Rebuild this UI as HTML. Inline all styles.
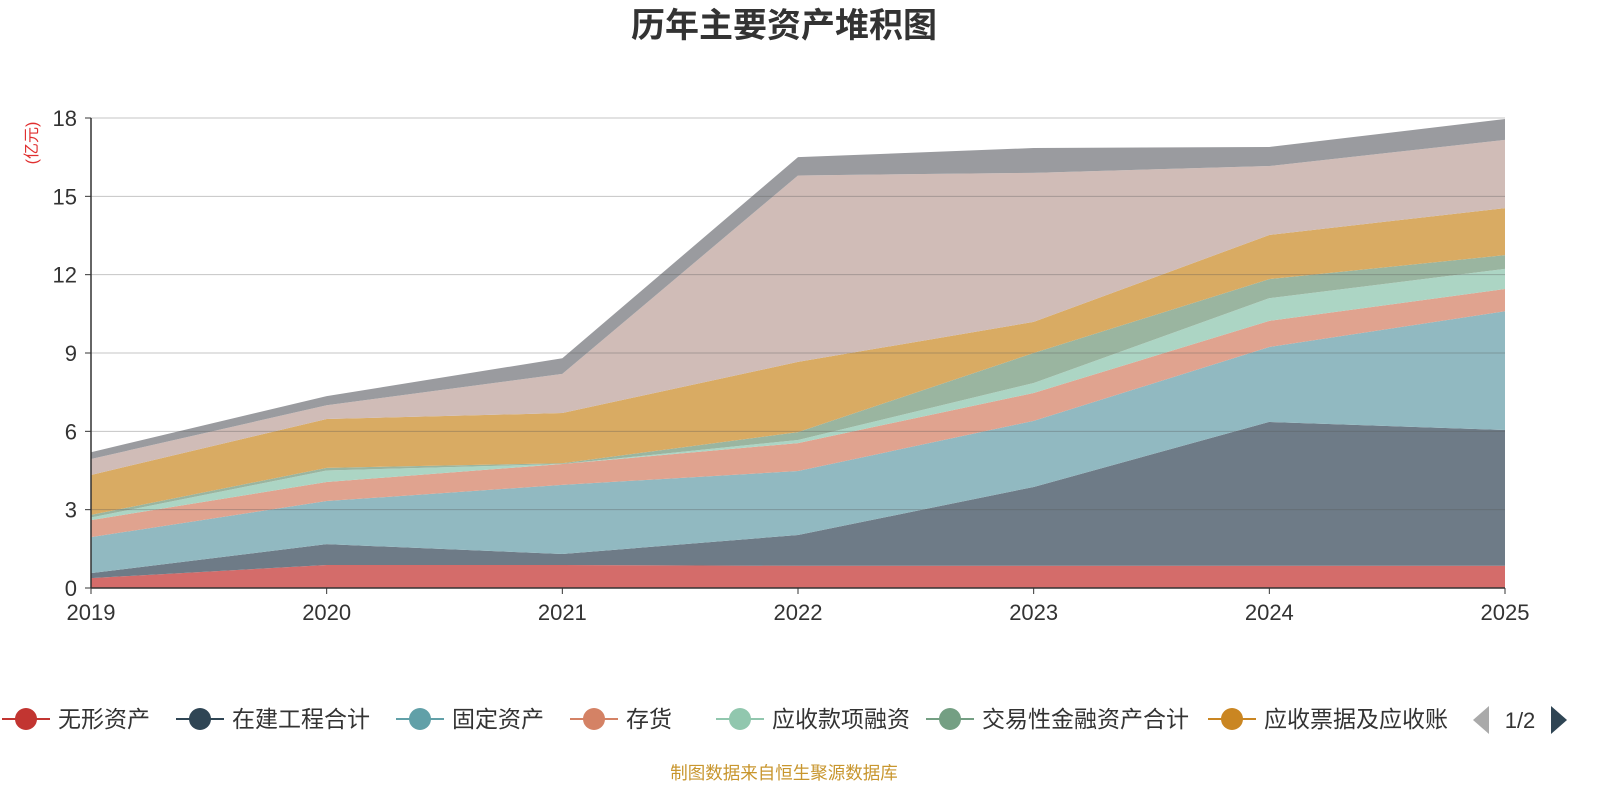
<!DOCTYPE html>
<html><head><meta charset="utf-8">
<style>
html,body{margin:0;padding:0;background:#fff;width:1600px;height:800px;overflow:hidden;font-family:"Liberation Sans","Noto Sans CJK SC",sans-serif;}
</style></head>
<body>
<svg id="chart" width="1600" height="800" xmlns="http://www.w3.org/2000/svg">
<text x="784" y="37" text-anchor="middle" font-size="34" font-weight="bold" fill="#333" font-family="Liberation Sans, Noto Sans CJK SC, sans-serif">历年主要资产堆积图</text>
<text transform="translate(37,143) rotate(-90)" text-anchor="middle" font-size="16" fill="#e03030" font-family="Liberation Sans, Noto Sans CJK SC, sans-serif">(亿元)</text>
<g id="areas"></g>
<g id="grid"></g>
<g id="axes"></g>
<g id="legend"></g>
<text x="784" y="779" text-anchor="middle" font-size="17.5" fill="#c8962e" font-family="Liberation Sans, Noto Sans CJK SC, sans-serif">制图数据来自恒生聚源数据库</text>
</svg>
<script>
const years = ['2019','2020','2021','2022','2023','2024','2025'];
const yTicks = [0,3,6,9,12,15,18];
const seriesNames = ['无形资产','在建工程合计','固定资产','存货','应收款项融资','交易性金融资产合计','应收票据及应收账款','其他资产','其他'];
const intangible = [0.38,0.88,0.88,0.85,0.85,0.85,0.85];
const construction = [0.19,0.80,0.42,1.18,3.02,5.51,5.20];
const fixedAssets = [1.38,1.65,2.65,2.45,2.53,2.87,4.55];
const inventory = [0.65,0.73,0.80,1.07,1.07,1.00,0.85];
const receivableFin = [0.10,0.44,0.00,0.12,0.38,0.87,0.77];
const tradingFin = [0.10,0.10,0.03,0.30,1.15,0.73,0.53];
const receivables = [1.53,1.87,1.92,2.69,1.19,1.69,1.80];
const otherA = [0.61,0.53,1.50,7.14,5.71,2.64,2.61];
const otherB = [0.26,0.35,0.60,0.70,0.95,0.73,0.80];
const seriesValues = [intangible,construction,fixedAssets,inventory,receivableFin,tradingFin,receivables,otherA,otherB];
const fills = ['#d46c6a','#6e7b87','#91b9c1','#e0a38f','#acd5c4','#9ab5a0','#d9ab63','#d0bcb7','#9a9b9f'];
const legendColors = ['#c23531','#2f4554','#61a0a8','#d48265','#91c7ae','#749f83','#ca8622'];
const slugs = ['intangible','construction','fixed-assets','inventory','receivable-financing','trading-financial','receivables','other-a','other-b'];

const NS='http://www.w3.org/2000/svg';
const X0=91,X1=1505,Y0=588,Y1=118,YMAX=18;
const xs=i=>X0+(X1-X0)*i/(years.length-1);
const ys=v=>Y0-(Y0-Y1)*v/YMAX;
function mk(tag,attrs,parent){const e=document.createElementNS(NS,tag);for(const k in attrs)e.setAttribute(k,attrs[k]);parent.appendChild(e);return e;}

const areas=document.getElementById('areas');
let base=years.map(()=>0);
seriesValues.forEach((vals,s)=>{
  const top=base.map((b,i)=>b+vals[i]);
  let d='M'+years.map((_,i)=>xs(i)+','+ys(top[i])).join(' L');
  for(let i=years.length-1;i>=0;i--) d+=' L'+xs(i)+','+ys(base[i]);
  d+=' Z';
  const p=mk('path',{d:d,fill:fills[s],stroke:'none'},areas);
  
  
  base=top;
});

const grid=document.getElementById('grid');
yTicks.forEach(t=>{
  if(t===0)return;
  const l=mk('line',{x1:X0,x2:X1,y1:ys(t),y2:ys(t),stroke:'#555','stroke-opacity':0.35,'stroke-width':1},grid);
  
  
});

const axes=document.getElementById('axes');
const ya=mk('line',{x1:X0,x2:X0,y1:Y1,y2:Y0,stroke:'#333','stroke-width':1.5},axes);


const xa=mk('line',{x1:X0,x2:X1,y1:Y0,y2:Y0,stroke:'#333','stroke-width':1.5},axes);


yTicks.forEach(t=>{
  mk('line',{x1:X0-6,x2:X0,y1:ys(t),y2:ys(t),stroke:'#333'},axes);
  const tx=mk('text',{x:X0-14,y:ys(t)+8,'text-anchor':'end','font-size':22,fill:'#333'},axes);
  tx.textContent=t;
  
  
});
years.forEach((yr,i)=>{
  mk('line',{x1:xs(i),x2:xs(i),y1:Y0,y2:Y0+6,stroke:'#333'},axes);
  const tx=mk('text',{x:xs(i),y:Y0+32,'text-anchor':'middle','font-size':22,fill:'#333'},axes);
  tx.textContent=yr;
  
  
});

const legend=document.getElementById('legend');
const legendNames=['无形资产','在建工程合计','固定资产','存货','应收款项融资','交易性金融资产合计','应收票据及应收账'];
const legendCx=[26,200,420,594,740,950,1232];
legendNames.forEach((n,i)=>{
  const g=mk('g',{},legend);
  
  
  const cx=legendCx[i];
  mk('line',{x1:cx-24,x2:cx+24,y1:719,y2:719,stroke:legendColors[i],'stroke-width':2},g);
  mk('circle',{cx:cx,cy:719,r:11,fill:legendColors[i]},g);
  const t=mk('text',{x:cx+32,y:727,'font-size':23,fill:'#333'},g);
  t.textContent=n;
});
const prev=mk('path',{d:'M1489,706 L1489,734 L1473,720 Z',fill:'#aaa'},legend);


const pg=mk('text',{x:1520,y:728,'text-anchor':'middle','font-size':22,fill:'#333'},legend);
pg.textContent='1/2';


const next=mk('path',{d:'M1551,706 L1551,734 L1567,720 Z',fill:'#2f4554'},legend);


</script>
</body></html>
